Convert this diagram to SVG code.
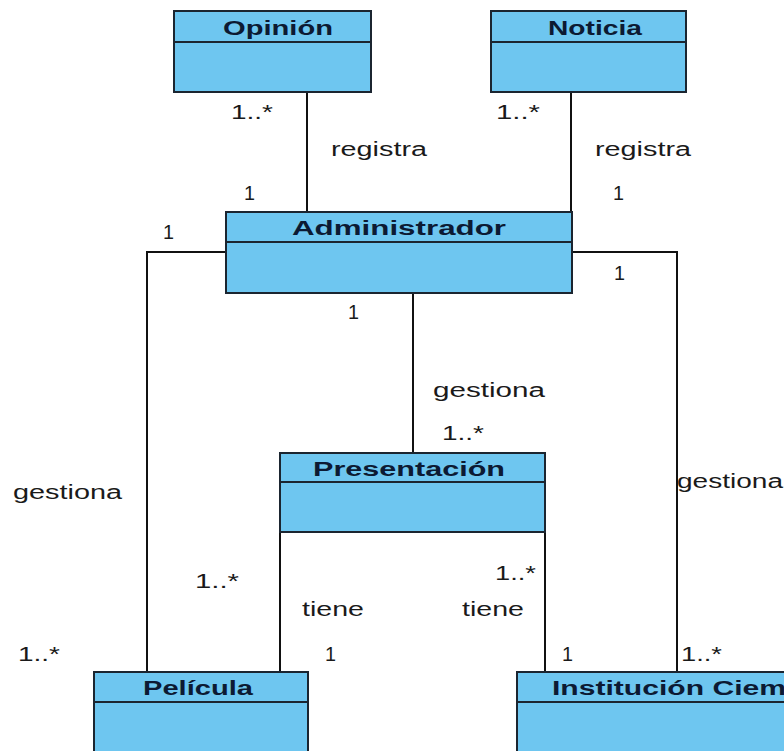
<svg xmlns="http://www.w3.org/2000/svg" width="784" height="751" viewBox="0 0 784 751">
  <style>
    .box { fill: #6ec6f0; stroke: #1b2530; stroke-width: 2; }
    .sep { stroke: #1b2530; stroke-width: 2; }
    .title { font-family: "Liberation Sans", Arial, sans-serif; font-weight: bold; font-size: 20px; fill: #0c1a33; }
    .lbl { font-family: "Liberation Sans", Arial, sans-serif; font-size: 20px; fill: #1a1a1a; }
    .conn { fill: none; stroke: #111; stroke-width: 2; }
  </style>
  <rect width="784" height="751" fill="#ffffff"/>

  <!-- associations -->
  <g id="connectors">
    <line class="conn" x1="307" y1="92" x2="307" y2="212"/>
    <line class="conn" x1="571" y1="92" x2="571" y2="212"/>
    <polyline class="conn" points="226,252 147,252 147,672"/>
    <polyline class="conn" points="572,252 677,252 677,672"/>
    <line class="conn" x1="413" y1="293" x2="413" y2="453"/>
    <line class="conn" x1="280" y1="532" x2="280" y2="672"/>
    <line class="conn" x1="545" y1="532" x2="545" y2="672"/>

    <text class="lbl" x="231" y="119" textLength="42" lengthAdjust="spacingAndGlyphs">1..*</text>
    <text class="lbl" x="331" y="156" textLength="96" lengthAdjust="spacingAndGlyphs">registra</text>
    <text class="lbl" x="244" y="200" textLength="11" lengthAdjust="spacingAndGlyphs">1</text>

    <text class="lbl" x="496" y="119" textLength="44" lengthAdjust="spacingAndGlyphs">1..*</text>
    <text class="lbl" x="595" y="156" textLength="96" lengthAdjust="spacingAndGlyphs">registra</text>
    <text class="lbl" x="613" y="200" textLength="11" lengthAdjust="spacingAndGlyphs">1</text>

    <text class="lbl" x="163" y="239" textLength="11" lengthAdjust="spacingAndGlyphs">1</text>
    <text class="lbl" x="614" y="280" textLength="11" lengthAdjust="spacingAndGlyphs">1</text>
    <text class="lbl" x="348" y="319" textLength="11" lengthAdjust="spacingAndGlyphs">1</text>

    <text class="lbl" x="433" y="397" textLength="112" lengthAdjust="spacingAndGlyphs">gestiona</text>
    <text class="lbl" x="442" y="440" textLength="42" lengthAdjust="spacingAndGlyphs">1..*</text>

    <text class="lbl" x="13" y="499" textLength="109" lengthAdjust="spacingAndGlyphs">gestiona</text>
    <text class="lbl" x="677" y="488" textLength="106" lengthAdjust="spacingAndGlyphs">gestiona</text>

    <text class="lbl" x="195" y="588" textLength="44" lengthAdjust="spacingAndGlyphs">1..*</text>
    <text class="lbl" x="495" y="580" textLength="41" lengthAdjust="spacingAndGlyphs">1..*</text>
    <text class="lbl" x="302" y="616" textLength="62" lengthAdjust="spacingAndGlyphs">tiene</text>
    <text class="lbl" x="462" y="616" textLength="62" lengthAdjust="spacingAndGlyphs">tiene</text>
    <text class="lbl" x="325" y="661" textLength="11" lengthAdjust="spacingAndGlyphs">1</text>
    <text class="lbl" x="562" y="661" textLength="11" lengthAdjust="spacingAndGlyphs">1</text>
    <text class="lbl" x="18" y="661" textLength="42" lengthAdjust="spacingAndGlyphs">1..*</text>
    <text class="lbl" x="681" y="661" textLength="41" lengthAdjust="spacingAndGlyphs">1..*</text>
  </g>

  <g id="opinion">
    <rect class="box" x="174" y="11" width="197" height="81"/>
    <line class="sep" x1="174" y1="42" x2="371" y2="42"/>
    <text class="title" x="223" y="35" textLength="110" lengthAdjust="spacingAndGlyphs">Opinión</text>
  </g>

  <g id="noticia">
    <rect class="box" x="491" y="11" width="195" height="81"/>
    <line class="sep" x1="491" y1="42" x2="686" y2="42"/>
    <text class="title" x="548" y="35" textLength="94" lengthAdjust="spacingAndGlyphs">Noticia</text>
  </g>

  <g id="administrador">
    <rect class="box" x="226" y="212" width="346" height="81"/>
    <line class="sep" x1="226" y1="242" x2="572" y2="242"/>
    <text class="title" x="292" y="235" textLength="214" lengthAdjust="spacingAndGlyphs">Administrador</text>
  </g>

  <g id="presentacion">
    <rect class="box" x="280" y="453" width="265" height="79"/>
    <line class="sep" x1="280" y1="482" x2="545" y2="482"/>
    <text class="title" x="313" y="476" textLength="192" lengthAdjust="spacingAndGlyphs">Presentación</text>
  </g>

  <g id="pelicula">
    <rect class="box" x="94" y="672" width="214" height="90"/>
    <line class="sep" x1="94" y1="702" x2="308" y2="702"/>
    <text class="title" x="143" y="695" textLength="110" lengthAdjust="spacingAndGlyphs">Película</text>
  </g>

  <g id="institucion">
    <rect class="box" x="517" y="672" width="290" height="90"/>
    <line class="sep" x1="517" y1="702" x2="807" y2="702"/>
    <text class="title" x="552" y="695" textLength="234" lengthAdjust="spacingAndGlyphs">Institución Ciem</text>
  </g>
</svg>
